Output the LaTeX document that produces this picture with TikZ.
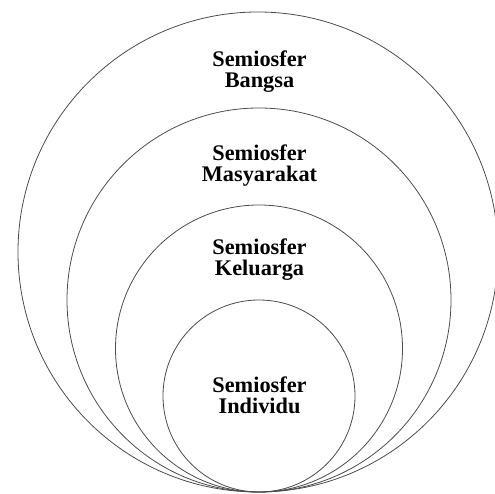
\documentclass[tikz,border=0pt]{standalone}
\usepackage{fontspec}
\setmainfont{Liberation Serif}
\begin{document}
\begin{tikzpicture}[x=1pt,y=1pt,
  ring/.style={draw=black!70,line width=0.8pt},
  lbl/.style={font=\fontsize{22.3}{21}\selectfont\bfseries,align=center,anchor=base,inner sep=0pt}]
\useasboundingbox (0,0) rectangle (495,494);
\clip (0,0) rectangle (495,494);
\draw[ring] (258,242) circle[radius=240];
\draw[ring] (259,194) circle[radius=192];
\draw[ring] (259,145.5) circle[radius=143.5];
\draw[ring] (259,98) circle[radius=96];
\node[lbl] (bangsa) at (259.5,406) {Semiosfer\\Bangsa};
\node[lbl] (masyarakat) at (259.5,312.3) {Semiosfer\\Masyarakat};
\node[lbl] (keluarga) at (259.5,218) {Semiosfer\\Keluarga};
\node[lbl] (individu) at (259.5,80) {Semiosfer\\Individu};
\end{tikzpicture}
\end{document}
